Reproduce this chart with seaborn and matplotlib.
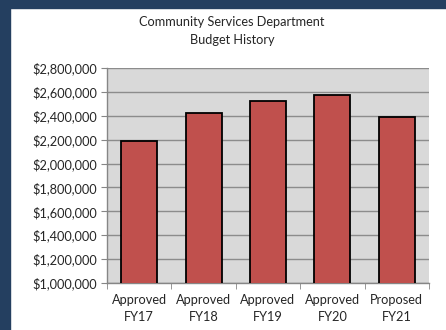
import matplotlib
matplotlib.use("Agg")
import matplotlib.pyplot as plt
import matplotlib.patches as mpatches
from matplotlib.ticker import FuncFormatter, FixedLocator
import seaborn as sns
import pandas as pd

categories = ["Approved\nFY17", "Approved\nFY18", "Approved\nFY19", "Approved\nFY20", "Proposed\nFY21"]
budget = [2190000, 2420000, 2525000, 2575000, 2390000]
title = "Community Services Department\nBudget History"

df = pd.DataFrame({"year": categories, "budget": budget})

sns.set_style("white")
plt.rcParams["font.family"] = ["Lato", "DejaVu Sans"]
txt = "#262626"

fig = plt.figure(figsize=(4.46, 3.30), dpi=100)
fig.patch.set_facecolor("white")
navy = "#243F60"
fig.patches.append(mpatches.Rectangle((0, 0), 10 / 446, 1, transform=fig.transFigure, color=navy, zorder=0))
fig.patches.append(mpatches.Rectangle((0, 1 - 8 / 330), 1, 8 / 330, transform=fig.transFigure, color=navy, zorder=0))

ax = fig.add_axes([107 / 446, (330 - 283) / 330, (429 - 107) / 446, (283 - 68) / 330])
ax.set_facecolor("#D9D9D9")

sns.barplot(data=df, x="year", y="budget", color="#C0504D", edgecolor="black",
            linewidth=1.3, width=0.56, saturation=1, ax=ax, zorder=3)

ax.set_ylim(1000000, 2800000)
ax.set_xlim(-0.5, 4.5)
ax.yaxis.set_major_locator(FixedLocator(list(range(1000000, 2800001, 200000))))
ax.yaxis.set_major_formatter(FuncFormatter(lambda v, p: "${:,.0f}".format(v)))
ax.grid(axis="y", color="#8C8C8C", linewidth=1.0, zorder=1)
ax.set_axisbelow(True)

for s in ["top", "right"]:
    ax.spines[s].set_visible(False)
for s in ["left", "bottom"]:
    ax.spines[s].set_color("#868686")
    ax.spines[s].set_linewidth(1.0)

ax.tick_params(axis="y", which="major", length=4, color="#868686", labelsize=9.2, labelcolor=txt, pad=3, left=True)
ax.tick_params(axis="x", which="major", length=0, labelsize=9.2, labelcolor=txt, pad=8)
ax.set_xticks([-0.5, 0.5, 1.5, 2.5, 3.5, 4.5], minor=True)
ax.tick_params(axis="x", which="minor", length=4, color="#868686", bottom=True)
for lbl in ax.get_xticklabels():
    lbl.set_linespacing(1.5)

ax.set_xlabel("")
ax.set_ylabel("")

fig.text(232 / 446, 1 - 31 / 330, title, ha="center", va="center", fontsize=9.2,
         color=txt, linespacing=1.5)

fig.savefig("out.png", dpi=100, facecolor=fig.get_facecolor())
